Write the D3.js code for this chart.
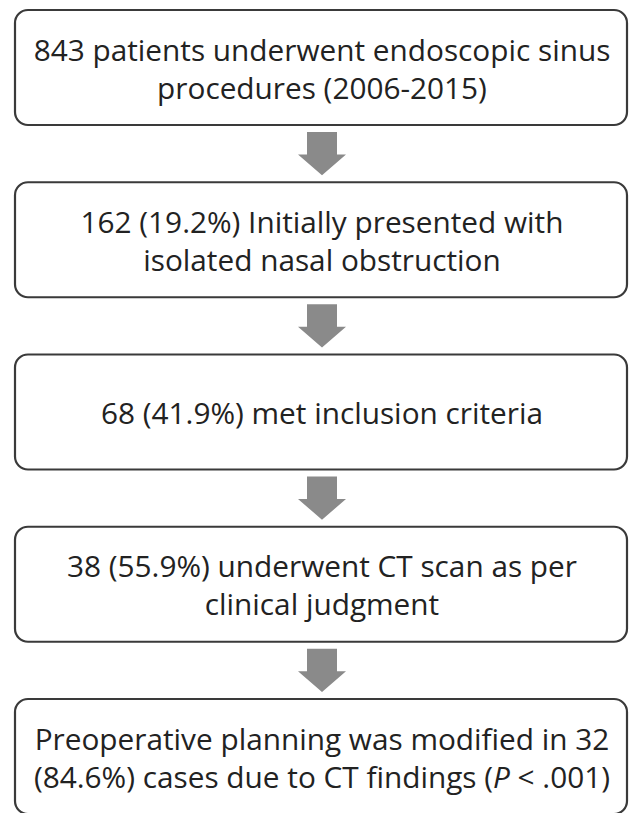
<!DOCTYPE html>
<html>
<head>
<meta charset="utf-8">
<script src="https://cdn.jsdelivr.net/npm/d3@7"></script>
<style>
  html, body { margin: 0; padding: 0; background: #fff; }
  svg { display: block; }
</style>
</head>
<body>
<svg id="chart" width="629" height="813"></svg>
<script>
// ---- data ----
const stepIndex = [0, 1, 2, 3, 4];
const stepCounts = [843, 162, 68, 38, 32];
const stepLines = [
  [[{t: "843 patients underwent endoscopic sinus"}], [{t: "procedures (2006-2015)"}]],
  [[{t: "162 (19.2%) Initially presented with"}], [{t: "isolated nasal obstruction"}]],
  [[{t: "68 (41.9%) met inclusion criteria"}]],
  [[{t: "38 (55.9%) underwent CT scan as per"}], [{t: "clinical judgment"}]],
  [[{t: "Preoperative planning was modified in 32"}],
   [{t: "(84.6%) cases due to CT findings ("}, {t: "P", i: true}, {t: " < .001)"}]]
];

// ---- layout ----
const W = 629, H = 813;
const svg = d3.select("#chart");
const boxH = 115, boxX0 = 15, boxX1 = 627, cx = 322;
const y = d3.scaleLinear().domain([0, 4]).range([10, 699]);
const lineGap = 38;
const fontFamily = "'Open Sans', 'DejaVu Sans', sans-serif";

// measure font size so widest line of the first box is ~577px
const probe = svg.append("text").attr("font-family", fontFamily).attr("font-size", 30)
  .text("843 patients underwent endoscopic sinus");
const w30 = probe.node().getComputedTextLength();
probe.remove();
const fontSize = 30 * 577 / w30;

// arrows
const arrowG = svg.append("g");
stepIndex.slice(0, 4).forEach(i => {
  const top = y(i) + boxH + 7;
  const bottom = y(i + 1) - 7;
  const h = bottom - top;
  const shaftW = 30, headW = 48;
  const headStart = top + h * 0.52;
  const p = d3.path();
  p.moveTo(cx - shaftW / 2, top);
  p.lineTo(cx + shaftW / 2, top);
  p.lineTo(cx + shaftW / 2, headStart);
  p.lineTo(cx + headW / 2, headStart);
  p.lineTo(cx, bottom);
  p.lineTo(cx - headW / 2, headStart);
  p.lineTo(cx - shaftW / 2, headStart);
  p.closePath();
  arrowG.append("path").attr("d", p.toString()).attr("fill", "#8a8a8a");
});

// boxes
const boxes = svg.selectAll("g.box").data(stepIndex).join("g").attr("class", "box");
boxes.append("rect")
  .attr("x", boxX0).attr("y", d => y(d))
  .attr("width", boxX1 - boxX0).attr("height", boxH)
  .attr("rx", 13).attr("ry", 13)
  .attr("fill", "#fff").attr("stroke", "#3a3a3a").attr("stroke-width", 2.2);

boxes.each(function(d) {
  const lines = stepLines[d];
  const cy = y(d) + boxH / 2;
  const n = lines.length;
  lines.forEach((segs, k) => {
    const ly = cy + (k - (n - 1) / 2) * lineGap;
    const t = d3.select(this).append("text")
      .attr("x", cx).attr("y", ly)
      .attr("text-anchor", "middle")
      .attr("dominant-baseline", "central")
      .attr("font-family", fontFamily)
      .attr("font-size", fontSize)
      .attr("fill", "#222");
    segs.forEach(s => {
      t.append("tspan").attr("font-style", s.i ? "italic" : "normal").text(s.t);
    });
  });
});
</script>
</body>
</html>
